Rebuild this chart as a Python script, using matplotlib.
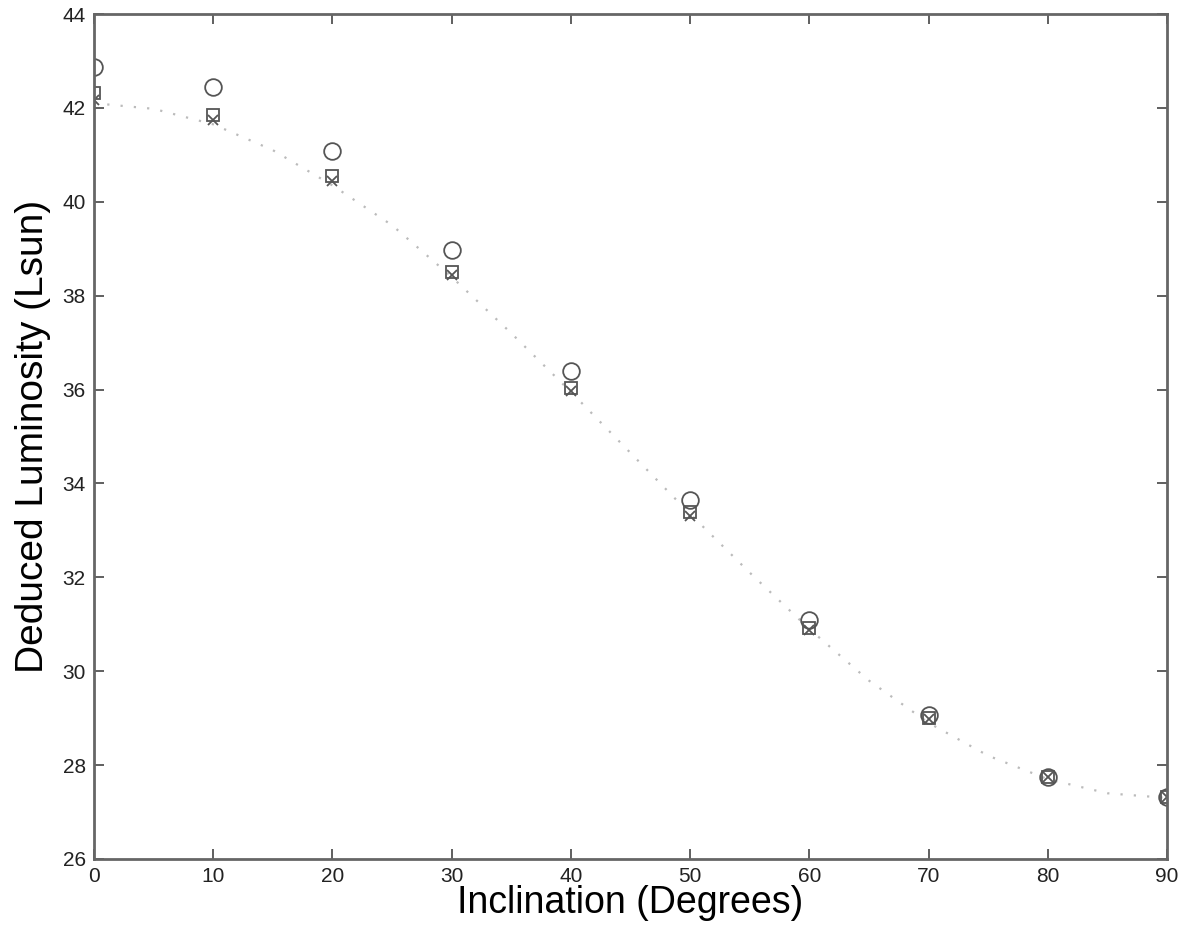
import numpy as np
import matplotlib
matplotlib.use('Agg')
import matplotlib.pyplot as plt

plt.rcParams['font.family'] = ['Liberation Sans', 'DejaVu Sans']

# inclination angles of the measured points
incl = [0, 10, 20, 30, 40, 50, 60, 70, 80, 90]

# deduced luminosity, three estimates
lum_circle = [42.87, 42.45, 41.08, 38.97, 36.39, 33.65, 31.09, 29.07, 27.75, 27.32]
lum_square = [42.32, 41.85, 40.55, 38.50, 36.03, 33.39, 30.92, 29.00, 27.75, 27.32]
lum_cross = [42.17, 41.74, 40.44, 38.44, 35.97, 33.30, 30.88, 28.98, 27.75, 27.32]

# dotted model curve
curve_x = [0, 5, 10, 15, 20, 25, 30, 35, 40, 45, 50, 55, 60, 65, 70, 75, 80, 85, 90]
curve_y = [42.1, 41.98, 41.65, 41.1, 40.35, 39.5, 38.4, 37.2, 35.95, 34.65, 33.35, 32.1, 30.9, 29.8, 28.9, 28.2, 27.7, 27.4, 27.3]

fig = plt.figure(figsize=(11.94, 9.4), dpi=100)
ax = fig.add_axes([0.0787, 0.0862, 0.8987, 0.8989])

ax.plot(curve_x, curve_y, linestyle=(0, (1, 5)), color='#bbbbbb', linewidth=1.6)
ax.plot(incl, lum_circle, 'o', mfc='none', mec='#555555', ms=12, mew=1.3)
ax.plot(incl, lum_square, 's', mfc='none', mec='#555555', ms=8.5, mew=1.3)
ax.plot(incl, lum_cross, 'x', color='#555555', ms=7, mew=1.3)

ax.set_xlim(0, 90)
ax.set_ylim(26, 44)
ax.set_xticks(range(0, 91, 10))
ax.set_yticks(range(26, 45, 2))
ax.tick_params(direction='in', length=7, width=1.2, top=True, right=True,
               labelsize=15, colors='#444444', labelcolor='#222222', pad=6)
for s in ax.spines.values():
    s.set_color('#666666')
    s.set_linewidth(2)

ax.set_xlabel('Inclination (Degrees)', fontsize=27, labelpad=-1)
ax.set_ylabel('Deduced Luminosity (Lsun)', fontsize=28, labelpad=8)

fig.savefig('out.png', dpi=100)
